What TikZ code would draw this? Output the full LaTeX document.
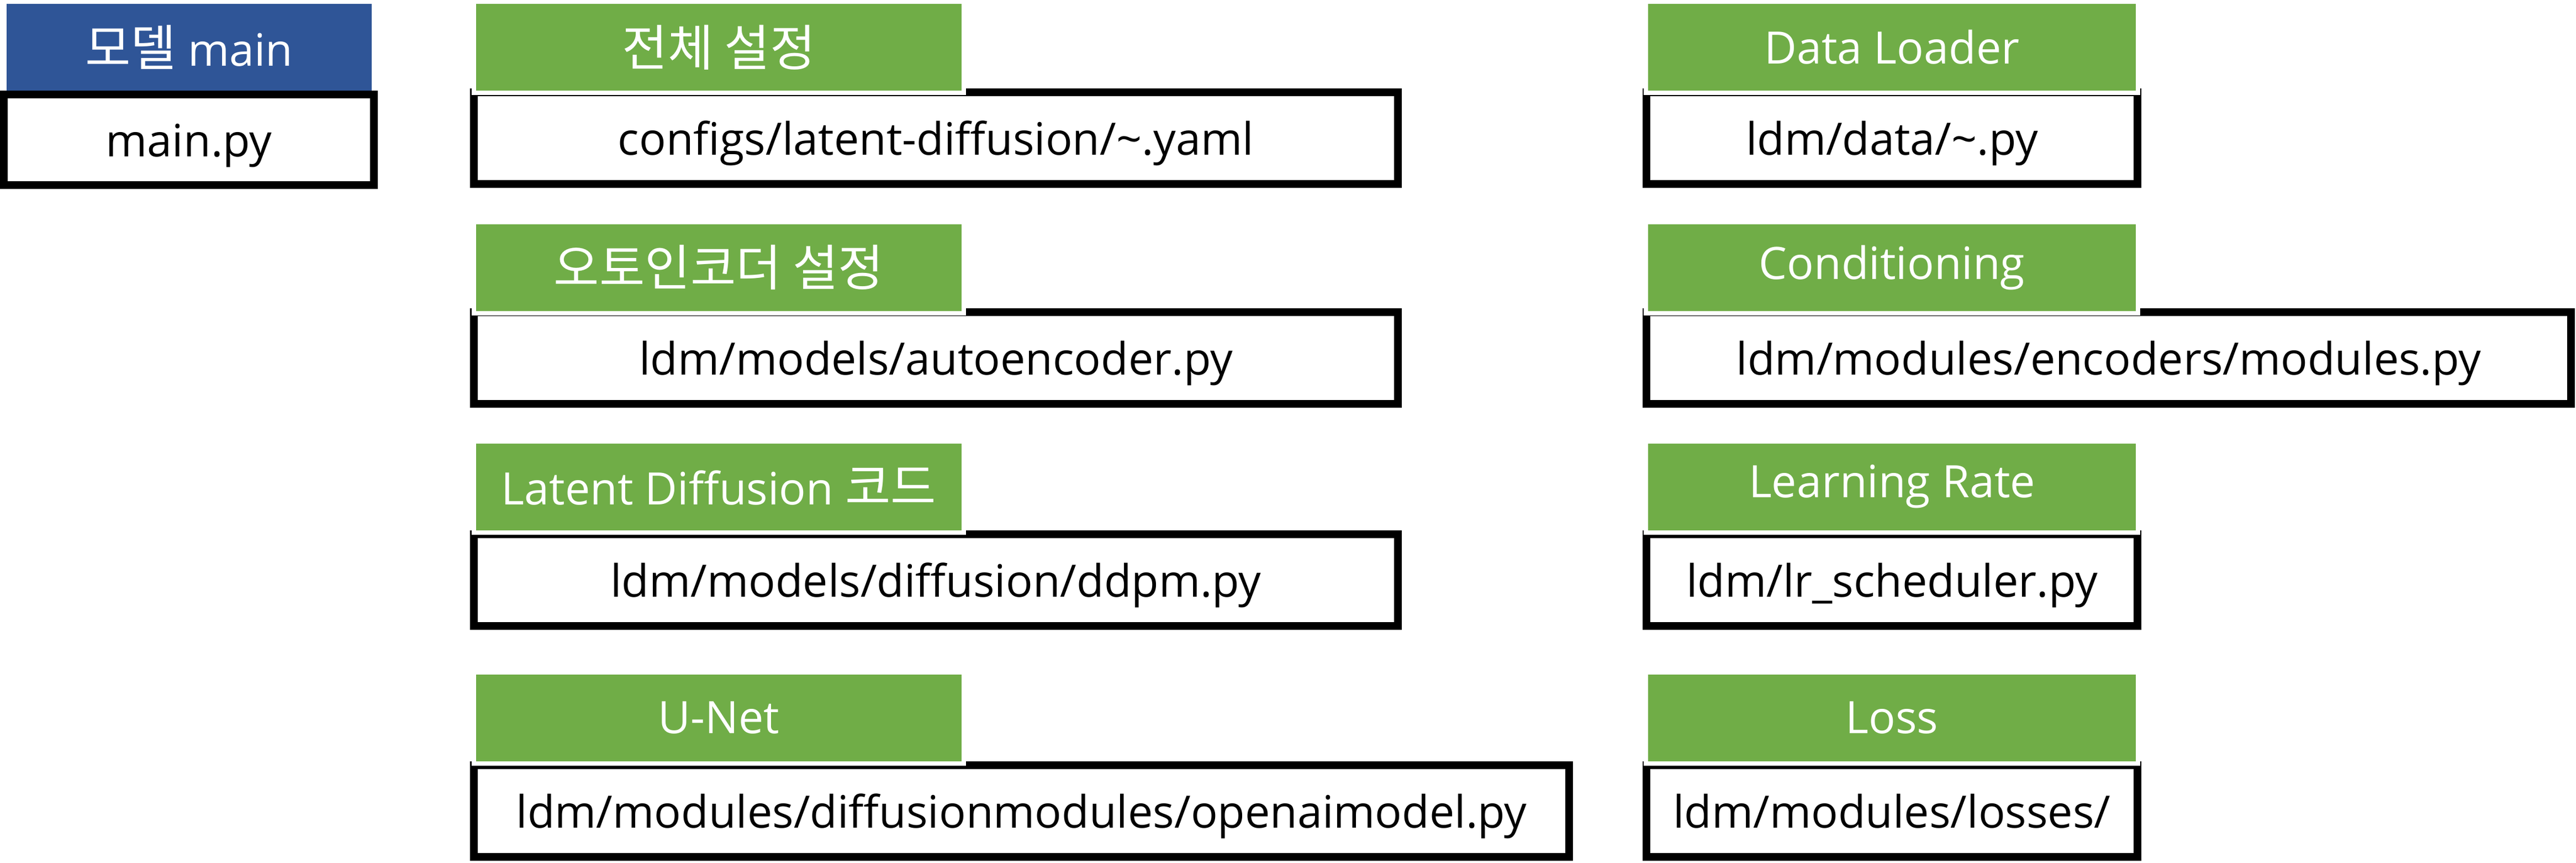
\documentclass[tikz,border=0pt]{standalone}
\usepackage{fontspec}
\setmainfont{Open Sans}
\newfontfamily\kr{Noto Sans CJK KR}
\newcommand\hg[1]{{\kr\fontsize{25.5}{30}\selectfont #1}}
\definecolor{headgreen}{RGB}{112,173,71}
\definecolor{headblue}{RGB}{47,85,151}

\begin{document}
\begin{tikzpicture}
\tikzset{file/.style={draw=black,fill=white,line width=1.4mm,minimum height=1.66cm,inner sep=0pt,text height=0.7cm,text depth=0.1cm,font=\fontsize{23}{28}\selectfont},
 head/.style={fill=headgreen,draw=white,line width=0.8mm,text=white,minimum height=1.65cm,minimum width=8.87cm,inner sep=0pt,font=\fontsize{23}{28}\selectfont}}
\useasboundingbox(0,0)rectangle(46.64,-15.61);

\node[file,minimum width=6.70cm,minimum height=1.64cm](main)at(3.42,-2.53){main.py};
\node[file,minimum width=16.73cm](cfg)at(16.945,-2.50){configs/latent-diffusion/\textasciitilde.yaml};
\node[file,minimum width=16.73cm](ae)at(16.945,-6.48){ldm/models/autoencoder.py};
\node[file,minimum width=16.73cm](ddpm)at(16.945,-10.50){ldm/models/diffusion/ddpm.py};
\node[file,minimum width=19.83cm](unet)at(18.495,-14.68){ldm/modules/diffusionmodules/openaimodel.py};
\node[file,minimum width=8.89cm](data)at(34.255,-2.50){ldm/data/\textasciitilde.py};
\node[file,minimum width=16.74cm](cond)at(38.18,-6.48){ldm/modules/encoders/modules.py};
\node[file,minimum width=8.89cm](lr)at(34.255,-10.50){ldm/lr\_scheduler.py};
\node[file,minimum width=8.89cm](loss)at(34.255,-14.68){ldm/modules/losses/};

\node[head,fill=headblue,draw=none,minimum width=6.61cm,minimum height=1.57cm](mainH)at(3.425,-0.855){\hg{모델} main};
\node[head](cfgH)at(13.015,-0.855){\hg{전체 설정}};
\node[head](aeH)at(13.015,-4.84){\hg{오토인코더 설정}};
\node[head](ddpmH)at(13.015,-8.81){Latent Diffusion \hg{코드}};
\node[head](unetH)at(13.015,-12.99){U-Net};
\foreach \n/\y/\t in {data/-0.855/Data Loader,cond/-4.84/Conditioning,lr/-8.81/Learning Rate,loss/-12.99/Loss}
\node[head,minimum width=8.91cm](\n H)at(34.255,\y){\t};
\end{tikzpicture}
\end{document}
